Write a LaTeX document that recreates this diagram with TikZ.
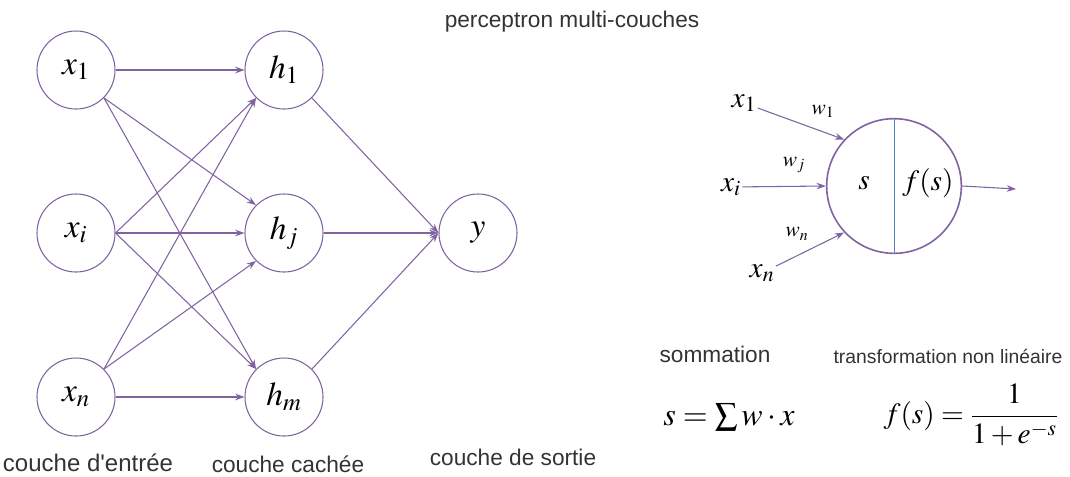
\documentclass[tikz,border=0pt]{standalone}
\usepackage{mathptmx}
\usepackage{fontspec}
\setmainfont{Liberation Sans}
\usetikzlibrary{arrows.meta}
\definecolor{lila}{HTML}{8064A2}
\definecolor{bleu}{HTML}{4F81BD}
\definecolor{texte}{HTML}{333333}
\begin{document}
\begin{tikzpicture}[
      x=0.75pt, y=-0.75pt,
      neur/.style={draw=lila, thick, circle, minimum size=58.5pt, inner sep=0pt,
                   font=\fontsize{25}{30}\selectfont},
      bigneur/.style={draw=lila, very thick, circle, minimum size=101pt, inner sep=0pt},
      lbl/.style={text=texte, font=\fontsize{17}{20}\selectfont, inner sep=0pt},
      inp/.style={font=\fontsize{22}{26}\selectfont, inner sep=1pt},
      wgt/.style={font=\fontsize{16}{19}\selectfont, inner sep=0pt},
      flow/.style={-{Stealth[length=7pt,width=5pt]}, draw=lila, thick}
    ]
    \useasboundingbox (0,0) rectangle (1070,476);

    % Couche d'entree
    \node[neur] (x1) at (76,70)  {$x_1$};
    \node[neur] (xi) at (76,233) {$x_i$};
    \node[neur] (xn) at (76,397) {$x_n$};

    % Couche cachee
    \node[neur] (h1) at (284,70)  {$h_1$};
    \node[neur] (hj) at (284,233) {$h_j$};
    \node[neur] (hm) at (284,397) {$h_m$};

    % Sortie
    \node[neur] (y) at (478,233) {$y$};

    % Legendes des couches
    \node[lbl, font=\fontsize{18}{21}\selectfont] (lin) at (88,463)
      {couche d\textquotesingle entrée};
    \node[lbl] (lhid) at (288,464) {couche cachée};
    \node[lbl] (lout) at (513,457) {couche de sortie};
    \node[lbl] (titre) at (572,22) {perceptron multi-couches};

    % Entree -> cachee
    \draw[flow] (x1.east) -- (h1.west);
    \draw[flow] (x1.south east) -- (hj.north west);
    \draw[flow] (x1.south east) -- (hm.north west);
    \draw[flow] (xi.east) -- (h1.south west);
    \draw[flow] (xi.east) -- (hj.west);
    \draw[flow] (xi.east) -- (hm.north west);
    \draw[flow] (xn.north east) -- (h1.south west);
    \draw[flow] (xn.north east) -- (hj.south west);
    \draw[flow] (xn.east) -- (hm.west);

    % Cachee -> sortie
    \draw[flow] (h1.south east) -- (y.west);
    \draw[flow] (hj.east) -- (y.west);
    \draw[flow] (hm.north east) -- (y.west);

    % Neurone detaille
    \node[bigneur] (neuron) at (894,186) {};
    \draw[bleu] (neuron.north) -- (neuron.south);
    \node[inp] (som) at (864,183) {$s$};
    \node[inp] (act) at (928,183) {$f(s)$};
    \coordinate (sortie) at (1016,189);
    \draw[flow] (neuron.east) -- (sortie);

    % Entrees du neurone
    \node[inp] (e1) at (744,103) {$x_1$};
    \node[inp] (ei) at (731,187) {$x_i$};
    \node[inp] (en) at (762,273) {$x_n$};
    \draw[flow] (e1) -- (neuron.137);
    \draw[flow] (ei) -- (neuron.west);
    \draw[flow] (en) -- (neuron.223);
    \node[wgt] (w1) at (823,111) {$w_1$};
    \node[wgt] (wj) at (794,165) {$w_j$};
    \node[wgt] (wn) at (797,234) {$w_n$};

    % Formules
    \node[lbl] (lsom) at (715,354) {sommation};
    \node[lbl, font=\fontsize{14.5}{17}\selectfont] (ltrans) at (948,356)
      {transformation non linéaire};
    \node[inp, font=\fontsize{24}{28}\selectfont] (fsom) at (729,417) {$s=\sum w\cdot x$};
    \node[inp] (fact) at (971,415) {$f(s)=\displaystyle\frac{1}{1+e^{-s}}$};
  \end{tikzpicture}
\end{document}
